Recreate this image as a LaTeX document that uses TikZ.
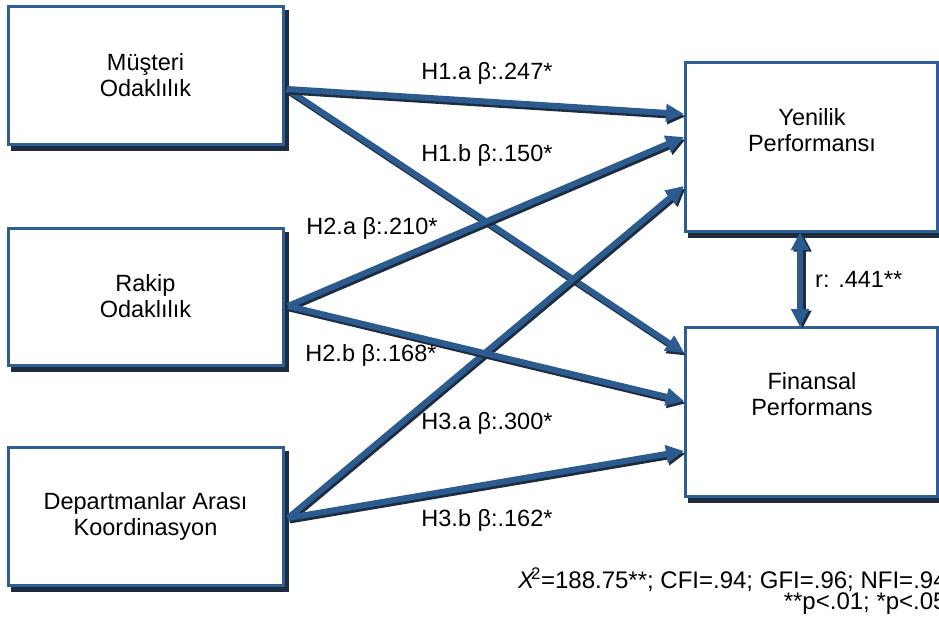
\documentclass[tikz,border=0pt]{standalone}
\usepackage{fontspec}
\setmainfont{Liberation Sans}
\usetikzlibrary{arrows.meta,backgrounds}
\definecolor{boxblue}{HTML}{2F5E94}
\definecolor{arrblue}{HTML}{2C5B90}
\definecolor{shadowc}{HTML}{1D2C3F}
\begin{document}
\begin{tikzpicture}[x=1pt,y=-1pt,
  txt/.style={font=\fontsize{23.5}{26}\selectfont, inner sep=0pt, align=center},
  box/.style={txt, draw=boxblue, line width=3pt, fill=white, minimum width=275pt, minimum height=137pt},
  rbox/.style={box, minimum width=252pt, minimum height=168pt},
  tip/.style={-{Triangle[length=18pt,width=17pt]}},
  conn/.style={draw=arrblue, line width=6pt, tip},
  sconn/.style={draw=shadowc, line width=6pt, tip},
  dconn/.style={draw=arrblue, line width=6pt, {Triangle[length=18pt,width=17pt]}-{Triangle[length=18pt,width=17pt]}},
  sdconn/.style={dconn, draw=shadowc},
  lab/.style={txt}]
\clip (0,0) rectangle (939,634);
% boxes
\node[box] (m) at (145.5,75.5) {Müşteri\\Odaklılık};
\node[box] (r) at (145.5,296.5) {Rakip\\Odaklılık};
\node[box, minimum height=138pt] (d) at (145.5,516) {Departmanlar Arası\\Koordinasyon};
\node[rbox] (y) at (811,147) {};
\node[rbox, minimum height=169pt] (f) at (811,411.5) {};
\node[txt] (yt) at (812,130) {Yenilik\\Performansı};
\node[txt] (ft) at (812,394) {Finansal\\Performans};
\begin{scope}[on background layer]
  \foreach \b in {m,r,d,y,f}
    \fill[shadowc] ([shift={(4pt,-5pt)}]\b.south west) rectangle ([shift={(4pt,-5pt)}]\b.north east);
\end{scope}
% connector end points
\coordinate (ms) at (287,89);
\coordinate (rs) at (288,306);
\coordinate (ds) at (288,518);
\coordinate (y1) at (684,114);
\coordinate (y2) at (684,137);
\coordinate (y3) at (684,186);
\coordinate (f1) at (684,353);
\coordinate (f2) at (684,401);
\coordinate (f3) at (684,451);
\coordinate (yb) at (800,232);
\coordinate (ft2) at (800,327);
% connectors (shadow first, then arrow)
\foreach \s/\e in {ms/f1, rs/y2, ds/y3, rs/f2, ms/y1, ds/f3}{
  \draw[sconn] ([shift={(1.5pt,-2.5pt)}]\s) -- ([shift={(1.5pt,-2.5pt)}]\e);
  \draw[conn] (\s) -- (\e);
}
\draw[sdconn] ([shift={(2.5pt,-1.5pt)}]yb) -- ([shift={(2.5pt,-1.5pt)}]ft2);
\draw[dconn] (yb) -- (ft2);
% labels
\node[lab] (l1) at (487,73) {H1.a β:.247*};
\node[lab] (l2) at (487,155) {H1.b β:.150*};
\node[lab] (l3) at (372,228) {H2.a β:.210*};
\node[lab] (l4) at (371,355) {H2.b β:.168*};
\node[lab] (l5) at (487,423) {H3.a β:.300*};
\node[lab] (l6) at (487,520) {H3.b β:.162*};
\node[lab, anchor=west] (lr) at (815,279) {r: .441**};
\node[txt, font=\fontsize{24}{19}\selectfont, align=right, anchor=west] (fit) at (518,591) {{\itshape X}\kern-3pt\textsuperscript{2}=188.75**; CFI=.94; GFI=.96; NFI=.94\\**p<.01; *p<.05};
\end{tikzpicture}
\end{document}
